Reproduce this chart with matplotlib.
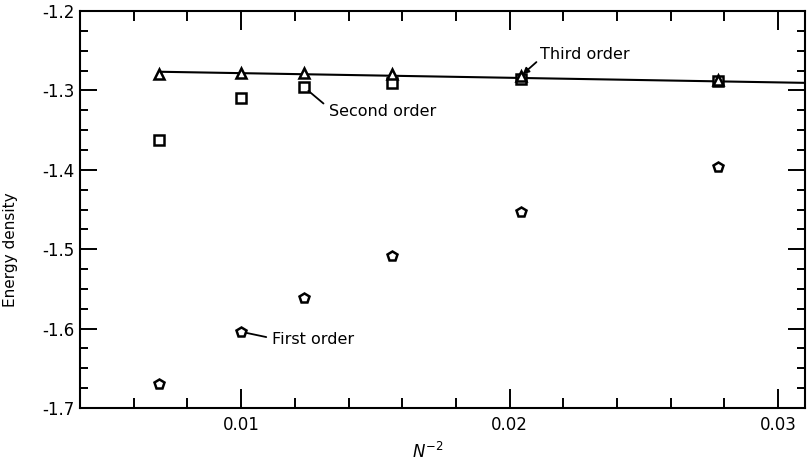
import matplotlib

matplotlib.use("Agg")
from matplotlib import pyplot as plt
from matplotlib.ticker import MultipleLocator, FormatStrFormatter

# N = 12, 10, 9, 8, 7, 6
n_values = [12, 10, 9, 8, 7, 6]
inv_n2 = [1.0 / n**2 for n in n_values]

first_order = [-1.670, -1.604, -1.561, -1.509, -1.453, -1.396]
second_order = [-1.362, -1.310, -1.296, -1.291, -1.286, -1.288]
third_order = [-1.279, -1.278, -1.278, -1.279, -1.282, -1.287]

# extrapolation line drawn through the third-order points
fit_x = [1.0 / 144, 0.031]
fit_y = [-1.2765, -1.2905]

plt.rcParams["axes.unicode_minus"] = False
plt.rcParams["font.family"] = "DejaVu Sans"

fig = plt.figure(figsize=(8.07, 4.66), dpi=100)
ax = fig.add_axes([80 / 807, 58 / 466, 725 / 807, 397 / 466])

ax.plot(fit_x, fit_y, color="black", linewidth=1.5, zorder=2)
marker_style = dict(linestyle="none", markerfacecolor="white", markeredgecolor="black",
                    markeredgewidth=1.8, zorder=3)
ax.plot(inv_n2, first_order, marker="p", markersize=7.5, **marker_style)
ax.plot(inv_n2, second_order, marker="s", markersize=6.5, **marker_style)
ax.plot(inv_n2, third_order, marker="^", markersize=6.5, **marker_style)

ax.annotate("Third order", xy=(inv_n2[4], third_order[4]), xytext=(0.02114, -1.2544),
            fontsize=11.5, ha="left", va="center",
            arrowprops=dict(arrowstyle="-|>", color="black", lw=1.3, relpos=(0, 0.2),
                            shrinkA=1, shrinkB=2, mutation_scale=9))
ax.annotate("Second order", xy=(inv_n2[2], second_order[2]), xytext=(0.01329, -1.3266),
            fontsize=11.5, ha="left", va="center",
            arrowprops=dict(arrowstyle="-", color="black", lw=1.3, relpos=(0, 0.7),
                            shrinkA=3, shrinkB=4))
ax.annotate("First order", xy=(inv_n2[1], first_order[1]), xytext=(0.01114, -1.614),
            fontsize=11.5, ha="left", va="center",
            arrowprops=dict(arrowstyle="-", color="black", lw=1.3, relpos=(0, 0.6),
                            shrinkA=2, shrinkB=4))

ax.set_xlim(0.004, 0.031)
ax.set_ylim(-1.7, -1.2)
ax.xaxis.set_major_locator(MultipleLocator(0.01))
ax.xaxis.set_minor_locator(MultipleLocator(0.002))
ax.yaxis.set_major_locator(MultipleLocator(0.1))
ax.yaxis.set_minor_locator(MultipleLocator(0.025))
ax.xaxis.set_major_formatter(FormatStrFormatter("%.2f"))
ax.yaxis.set_major_formatter(FormatStrFormatter("%.1f"))

ax.tick_params(axis="both", which="both", direction="in", top=True, right=True,
               width=1.4, labelsize=12)
ax.tick_params(axis="x", which="major", length=14, pad=6)
ax.tick_params(axis="x", which="minor", length=7)
ax.tick_params(axis="y", which="major", length=12, pad=4)
ax.tick_params(axis="y", which="minor", length=6)
for spine in ax.spines.values():
    spine.set_linewidth(1.5)

ax.set_ylabel("Energy density", fontsize=11)
ax.yaxis.set_label_coords(-0.0855, 0.40)
ax.set_xlabel("$N^{-2}$", fontsize=12)
ax.xaxis.set_label_coords(0.48, -0.085)

fig.savefig("out.png", dpi=100)
